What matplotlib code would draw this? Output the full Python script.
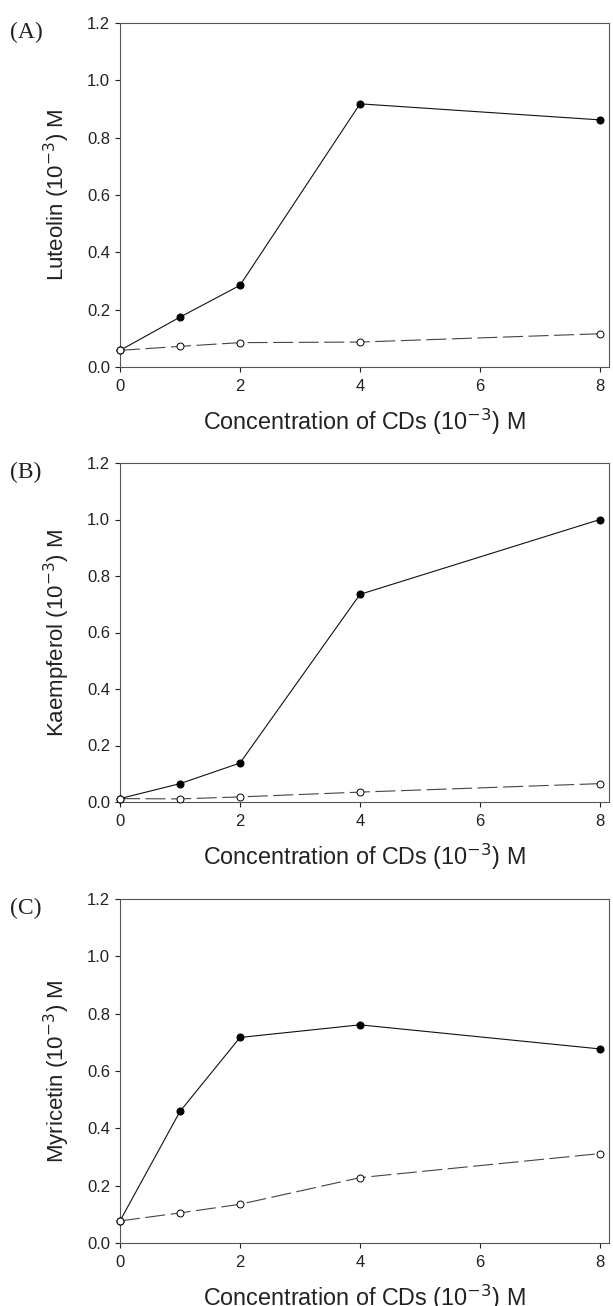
import matplotlib.pyplot as plt

plt.rcParams['font.family'] = ['Liberation Sans', 'DejaVu Sans']

# 数据
conc = [0, 1, 2, 4, 8]

luteolin_cd = [0.058, 0.174, 0.285, 0.918, 0.862]
luteolin_free = [0.058, 0.072, 0.085, 0.087, 0.116]

kaempferol_cd = [0.012, 0.065, 0.138, 0.735, 1.0]
kaempferol_free = [0.012, 0.011, 0.018, 0.035, 0.065]

myricetin_cd = [0.077, 0.459, 0.717, 0.761, 0.677]
myricetin_free = [0.077, 0.105, 0.135, 0.228, 0.312]

panels = [
    ('(A)', 'Luteolin', luteolin_cd, luteolin_free),
    ('(B)', 'Kaempferol', kaempferol_cd, kaempferol_free),
    ('(C)', 'Myricetin', myricetin_cd, myricetin_free),
]

W, H = 613, 1306
fig = plt.figure(figsize=(W / 100, H / 100), dpi=100)

# 坐标轴位置（像素：左、上、右、下）
boxes = [(120, 23, 609, 367), (120, 463, 609, 802), (120, 899, 609, 1243)]

for (tag, name, cd, free), (l, t, r, b) in zip(panels, boxes):
    ax = fig.add_axes([l / W, 1 - b / H, (r - l) / W, (b - t) / H])
    ax.plot(conc, cd, color='#111111', lw=0.8, marker='o', ms=5,
            mfc='black', mec='black', mew=0.8, clip_on=False, zorder=3)
    ax.plot(conc, free, color='#444444', lw=0.8, ls=(0, (18, 5)), marker='o', ms=5,
            mfc='white', mec='black', mew=0.7, clip_on=False, zorder=3)
    ax.set_xlim(0, 8.15)
    ax.set_ylim(0, 1.2)
    ax.set_xticks([0, 2, 4, 6, 8])
    ax.set_yticks([0.0, 0.2, 0.4, 0.6, 0.8, 1.0, 1.2])
    ax.set_yticklabels(['0.0', '0.2', '0.4', '0.6', '0.8', '1.0', '1.2'])
    ax.tick_params(direction='out', length=3.6, width=0.8, labelsize=12,
                   colors='#222222', top=False, right=False)
    ax.tick_params(axis='y', pad=3.5)
    ax.tick_params(axis='x', pad=5)
    for s in ax.spines.values():
        s.set_linewidth(0.8)
        s.set_color('#555555')
    ax.set_xlabel('Concentration of CDs (10$^{-3}$) M', fontsize=16.8, labelpad=9,
                  color='#222222')
    ax.set_ylabel(name + ' (10$^{-3}$) M', fontsize=16, labelpad=11, color='#222222')
    fig.text(10 / W, 1 - (t + 9) / H, tag, family='Liberation Serif', fontsize=17,
             va='center', ha='left', color='#222222')

fig.savefig('out.png', dpi=100)
